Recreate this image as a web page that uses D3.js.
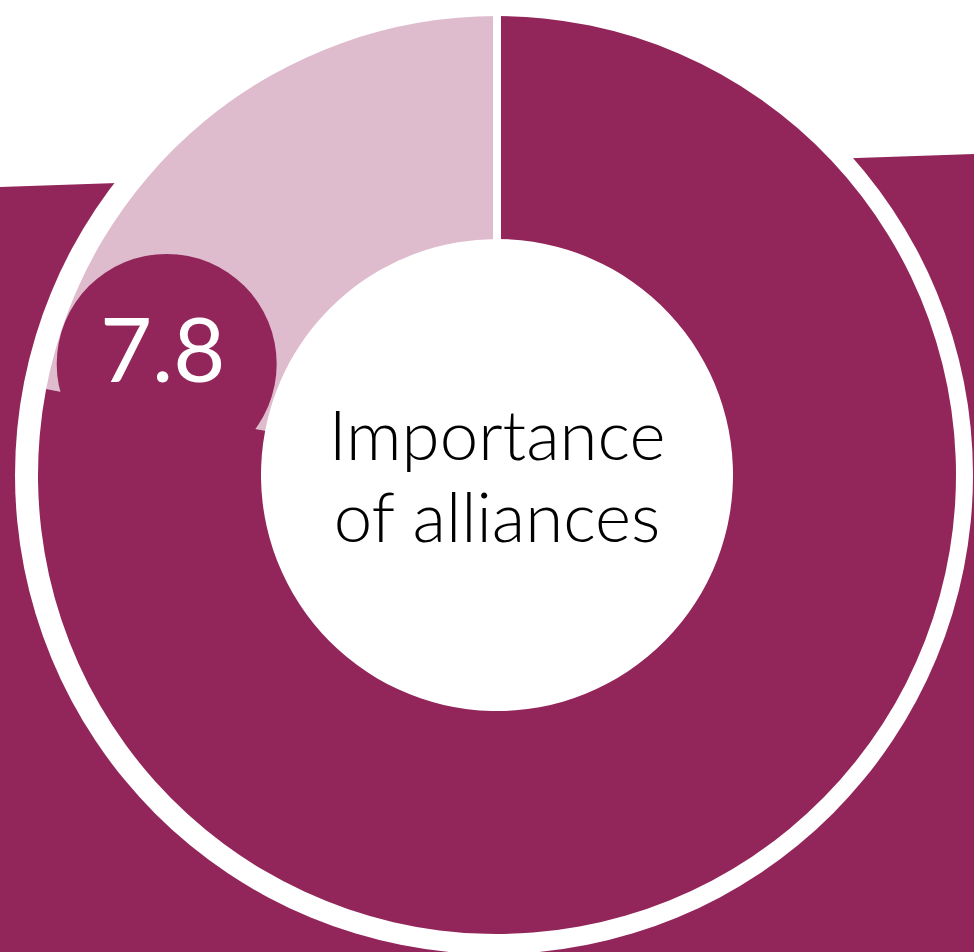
<!DOCTYPE html>
<html>
<head>
<meta charset="utf-8">
<script src="https://cdn.jsdelivr.net/npm/d3@7"></script>
<style>
  html, body { margin: 0; padding: 0; background: #ffffff; }
  svg { display: block; }
</style>
</head>
<body>
<svg id="chart" width="974" height="952"></svg>
<script>
// Score gauge: one indicator rated on a 0–10 scale
const titleLines = ["Importance", "of alliances"];
const scoreValues = [7.8];
const scaleExtent = [0, 10];

const W = 974, H = 952;
const cx = 497, cy = 475;
const outerR = 459, innerR = 236;
const haloR = 479;
const dark = "#92265a", light = "#dfbccd";

const svg = d3.select("#chart");

// angular scale: score -> radians, clockwise from 12 o'clock
const angle = d3.scaleLinear().domain(scaleExtent).range([0, 2 * Math.PI]);

// slanted backdrop band behind the gauge
const band = [[0, 187], [W, 154], [W, H], [0, H]];
svg.append("path")
  .attr("d", d3.line()(band) + "Z")
  .attr("fill", dark);

// white halo around the ring
svg.append("circle")
  .attr("cx", cx - 3).attr("cy", cy)
  .attr("r", haloR)
  .attr("fill", "#ffffff");

const g = svg.append("g").attr("transform", `translate(${cx},${cy})`);

const score = scoreValues[0];
const pie = d3.pie().sort(null).value(d => d.v)
  .startAngle(angle(scaleExtent[0])).endAngle(angle(scaleExtent[1]));
const parts = pie([
  { key: "score", v: score - scaleExtent[0], fill: light === "" ? dark : dark },
  { key: "rest", v: scaleExtent[1] - score, fill: light }
]);

const arc = d3.arc().innerRadius(innerR).outerRadius(outerR);

// remainder first, then the score arc on top
g.selectAll("path.slice")
  .data(parts.slice().reverse())
  .join("path")
  .attr("class", "slice")
  .attr("d", arc)
  .attr("fill", d => d.data.fill);

// white notch marking the zero point at 12 o'clock
g.append("line")
  .attr("x1", 0).attr("x2", 0)
  .attr("y1", -innerR + 1).attr("y2", -outerR - 1)
  .attr("stroke", "#ffffff")
  .attr("stroke-width", 8);

// value badge riding just past the end of the score arc
const badgeR = 110;
const midR = (innerR + outerR) / 2 + 1;
const badgeA = angle(score) + 0.136;
const bx = midR * Math.sin(badgeA);
const by = -midR * Math.cos(badgeA);
g.append("circle")
  .attr("cx", bx).attr("cy", by)
  .attr("r", badgeR)
  .attr("fill", dark);
g.append("text")
  .attr("x", bx - 4).attr("y", by + 18)
  .attr("text-anchor", "middle")
  .attr("font-family", "Lato, 'Open Sans', sans-serif")
  .attr("font-weight", 400)
  .attr("font-size", 90)
  .attr("fill", "#ffffff")
  .text(d3.format(".1f")(score));

// centre title
g.append("text")
  .attr("text-anchor", "middle")
  .attr("font-family", "Lato, 'Open Sans', sans-serif")
  .attr("font-weight", 300)
  .attr("font-size", 69)
  .attr("fill", "#000000")
  .selectAll("tspan")
  .data(titleLines)
  .join("tspan")
  .attr("x", 0)
  .attr("y", (d, i) => -15 + i * 82)
  .text(d => d);
</script>
</body>
</html>
